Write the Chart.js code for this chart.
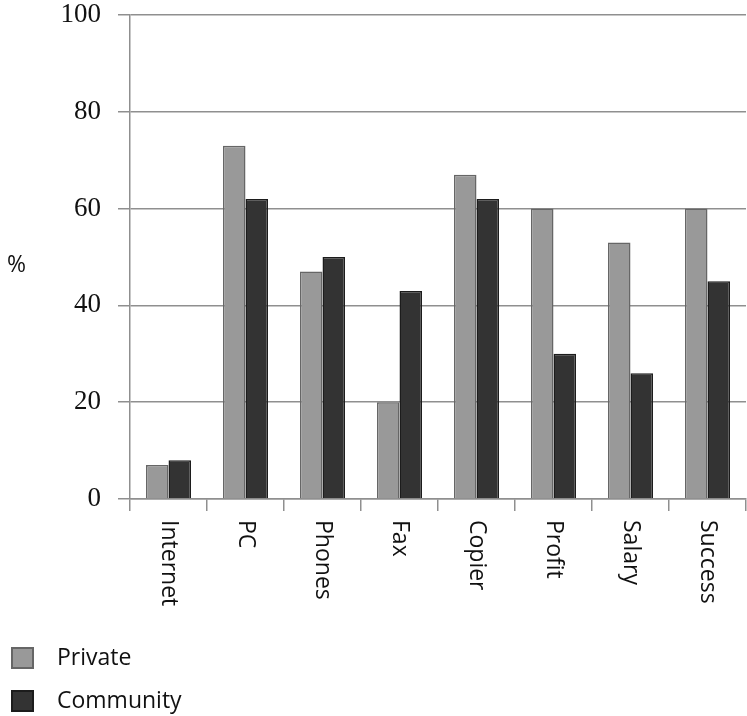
<!DOCTYPE html>
<html>
<head>
<meta charset="utf-8">
<script src="https://cdn.jsdelivr.net/npm/chart.js@4.4.1/dist/chart.umd.min.js"></script>
<style>
  html, body { margin: 0; padding: 0; background: #fff; }
  #wrap { width: 747px; height: 716px; }
</style>
</head>
<body>
<div id="wrap"><canvas id="barChart" width="747" height="716"></canvas></div>
<script>
var categories = ['Internet', 'PC', 'Phones', 'Fax', 'Copier', 'Profit', 'Salary', 'Success'];
var privateVals = [7, 73, 47, 20, 67, 60, 53, 60];
var communityVals = [8, 62, 50, 43, 62, 30, 26, 45];
var yTicks = [0, 20, 40, 60, 80, 100];

var sansFont = '"Open Sans", "Noto Sans", sans-serif';
var gridColor = '#8f8f8f';

// x labels read top-to-bottom, "%" label and a stacked legend under the chart
var extraText = {
  id: 'extraText',
  afterDraw: function(chart) {
    var ctx = chart.ctx;
    var xs = chart.scales.x;
    var bottom = chart.chartArea.bottom;
    ctx.save();
    ctx.fillStyle = '#111';
    ctx.font = '23px ' + sansFont;
    ctx.textAlign = 'left';
    ctx.textBaseline = 'middle';
    categories.forEach(function(c, i) {
      var x = xs.getPixelForValue(i);
      ctx.save();
      ctx.translate(x, bottom + 21);
      ctx.rotate(Math.PI / 2);
      ctx.fillText(c, 0, 0);
      ctx.restore();
    });

    ctx.fillText('%', 7, 265);

    var ys = [658, 701];
    chart.data.datasets.forEach(function(ds, i) {
      ctx.fillStyle = ds.backgroundColor;
      ctx.strokeStyle = ds.borderColor;
      ctx.lineWidth = 2;
      ctx.fillRect(12, ys[i] - 10, 21, 20);
      ctx.strokeRect(12, ys[i] - 10, 21, 20);
      ctx.fillStyle = '#111';
      ctx.fillText(ds.label, 57, ys[i]);
    });
    ctx.restore();
  }
};

var ctx = document.getElementById('barChart').getContext('2d');
var barChart = new Chart(ctx, {
  type: 'bar',
  data: {
    labels: categories,
    datasets: [{
      label: 'Private',
      data: privateVals,
      backgroundColor: '#999999',
      borderColor: '#666666',
      borderWidth: 1.5
    }, {
      label: 'Community',
      data: communityVals,
      backgroundColor: '#333333',
      borderColor: '#1c1c1c',
      borderWidth: 1.5
    }]
  },
  options: {
    responsive: false,
    animation: false,
    layout: {
      padding: { top: 15, right: 1, bottom: 205, left: 0 }
    },
    datasets: {
      bar: {
        categoryPercentage: 0.585,
        barPercentage: 1.0
      }
    },
    plugins: {
      legend: { display: false },
      tooltip: { enabled: false }
    },
    scales: {
      x: {
        offset: true,
        grid: {
          drawOnChartArea: false,
          drawTicks: true,
          tickLength: 12,
          color: gridColor,
          lineWidth: 1.5
        },
        border: { display: true, color: gridColor, width: 1.5 },
        ticks: { display: false }
      },
      y: {
        min: 0,
        max: 100,
        afterFit: function(scale) {
          scale.width = 130;
          scale.paddingTop = 0;
          scale.paddingBottom = 0;
        },
        afterBuildTicks: function(scale) {
          scale.ticks = yTicks.map(function(v) { return { value: v }; });
        },
        grid: {
          color: gridColor,
          lineWidth: 1.5,
          tickLength: 12
        },
        border: { display: true, color: gridColor, width: 1.5 },
        ticks: {
          padding: 17,
          color: '#111',
          font: { family: '"Liberation Serif", "DejaVu Serif", serif', size: 27 }
        }
      }
    }
  },
  plugins: [extraText]
});
</script>
</body>
</html>
